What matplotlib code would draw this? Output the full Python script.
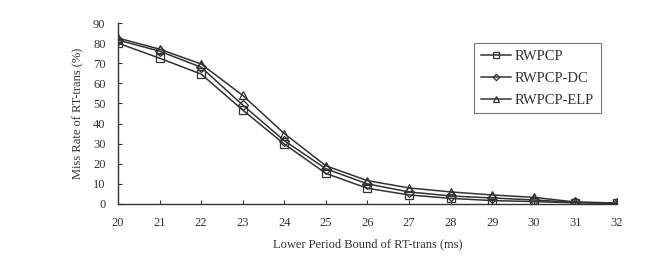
import matplotlib
matplotlib.use("Agg")
import matplotlib.pyplot as plt

x = [20, 21, 22, 23, 24, 25, 26, 27, 28, 29, 30, 31, 32]
rwpcp = [80, 72.5, 64.6, 46.7, 29.8, 15.2, 7.8, 4.5, 2.8, 1.7, 1.2, 0.6, 0.3]
rwpcp_dc = [81.5, 76, 68, 49.2, 31.5, 17.5, 10, 6, 4, 3, 2, 0.8, 0.4]
rwpcp_elp = [82.5, 77, 69.6, 54, 35, 19, 11.6, 8, 6, 4.5, 3.3, 1.0, 0.5]
yticks = list(range(0, 91, 10))

plt.rcParams['font.family'] = ['Liberation Serif', 'DejaVu Serif']
fig = plt.figure(figsize=(6.61, 2.56), dpi=100)
ax = fig.add_axes([118/661, 1-204/256, (617-118)/661, (204-23)/256])

kw = dict(color='#333333', lw=1.1, markerfacecolor='none', markeredgecolor='#333333', markersize=6, markeredgewidth=0.9)
ax.plot(x, rwpcp, marker='s', label='RWPCP', **kw)
ax.plot(x, rwpcp_dc, marker='D', label='RWPCP-DC', **{**kw, 'markersize': 5})
ax.plot(x, rwpcp_elp, marker='^', label='RWPCP-ELP', **kw)

ax.set_xlim(20, 32)
ax.set_ylim(0, 90)
ax.set_xticks(x)
ax.set_yticks(yticks)
ax.spines['top'].set_visible(False)
ax.spines['right'].set_visible(False)
for s in ('left', 'bottom'):
    ax.spines[s].set_color('#333333')
    ax.spines[s].set_linewidth(1.0)
ax.tick_params(labelsize=9, length=3, width=0.8, direction='in', colors='#333333')
ax.tick_params(axis='x', pad=9)
ax.tick_params(axis='y', pad=9)
ax.set_xlabel('Lower Period Bound of RT-trans (ms)', fontsize=9, labelpad=7, color='#333333')
ax.set_ylabel('Miss Rate of RT-trans (%)', fontsize=9, labelpad=6, color='#333333')

leg = ax.legend(loc='upper left', bbox_to_anchor=((474-118)/499, (204-43)/181), fontsize=10.5,
                frameon=True, fancybox=False, edgecolor='#555555', handlelength=2.1,
                markerscale=0.65, borderpad=0.45, labelspacing=0.6, handletextpad=0.25,
                borderaxespad=0)
leg.get_frame().set_linewidth(0.8)
for t in leg.get_texts():
    t.set_color('#333333')

fig.savefig('out.png', dpi=100)
